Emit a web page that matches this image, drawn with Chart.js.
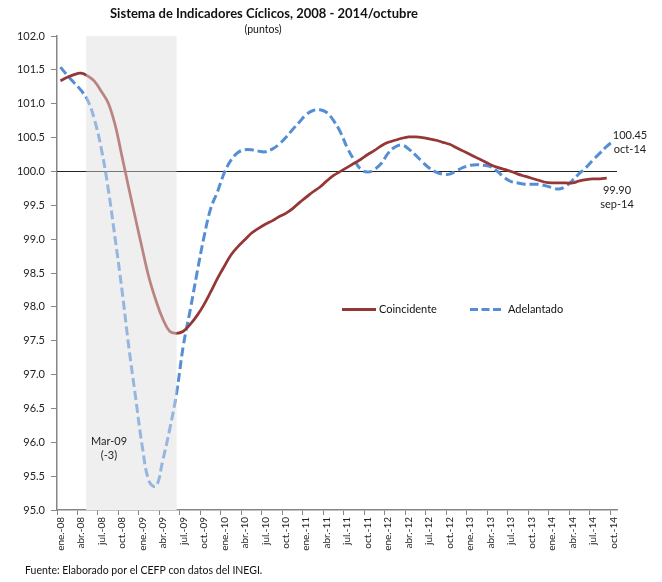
<!DOCTYPE html>
<html>
<head>
<meta charset="utf-8">
<script src="https://cdn.jsdelivr.net/npm/chart.js@4.4.1/dist/chart.umd.min.js"></script>
<style>
  body { margin: 0; background: #fff; }
  #wrap { width: 662px; height: 582px; }
</style>
</head>
<body>
<div id="wrap"><canvas id="chart" width="662" height="582"></canvas></div>
<script>
// ── Data ──────────────────────────────────────────────────────────────
const MONTHS = ['ene.','feb.','mar.','abr.','may.','jun.','jul.','ago.','sep.','oct.','nov.','dic.'];
const YEARS  = ['08','09','10','11','12','13','14'];
const LAST_MONTH = 9;   // oct-14

const labels = [];
YEARS.forEach((y, yi) => MONTHS.forEach((m, mi) => {
  if (yi < YEARS.length - 1 || mi <= LAST_MONTH) labels.push(m + '-' + y);
}));

// ene-08 .. sep-14
const coincidente = [
  101.34,101.39,101.43,101.45,101.41,101.33,101.18,101.01,100.69,100.23,
   99.76, 99.30, 98.85, 98.42, 98.09, 97.82, 97.64, 97.61, 97.64, 97.74,
   97.87, 98.03, 98.22, 98.42, 98.60, 98.77, 98.89, 98.99, 99.09, 99.16,
   99.22, 99.27, 99.33, 99.38, 99.45, 99.54, 99.62, 99.70, 99.77, 99.86,
   99.94,100.00,100.06,100.12,100.18,100.25,100.31,100.38,100.43,100.46,
  100.49,100.51,100.51,100.50,100.48,100.46,100.43,100.40,100.35,100.30,
  100.25,100.20,100.15,100.10,100.06,100.03,100.00, 99.96, 99.93, 99.90,
   99.87, 99.84, 99.83, 99.83, 99.83, 99.83, 99.86, 99.88, 99.89, 99.89,
   99.90
];

// ene-08 .. oct-14
const adelantado = [
  101.54,101.42,101.31,101.20,101.05,100.76,100.33, 99.74, 99.02, 98.26,
   97.42, 96.67, 95.93, 95.42, 95.35, 95.74, 96.19, 96.72, 97.43, 97.95,
   98.50, 99.02, 99.45, 99.70, 99.98,100.17,100.28,100.32,100.32,100.30,
  100.29,100.33,100.40,100.50,100.62,100.73,100.84,100.90,100.91,100.87,
  100.75,100.58,100.35,100.17,100.03, 99.99,100.03,100.12,100.27,100.36,
  100.39,100.33,100.24,100.14,100.05, 99.99, 99.96, 99.96,100.01,100.06,
  100.09,100.10,100.09,100.07,100.00, 99.91, 99.85, 99.83, 99.81, 99.81,
   99.81, 99.79, 99.76, 99.74, 99.78, 99.87, 99.97,100.06,100.17,100.27,
  100.37,100.45
];

const SHADE_FROM = 'may.-08';
const SHADE_TO   = 'jun.-09';
const Y_MIN = 95, Y_MAX = 102, Y_STEP = 0.5;

const RED  = '#953735';
const BLUE = '#558ed5';
const FONT = 'Lato, "Liberation Sans", sans-serif';

// ── Decorations: shaded period, 100 line, texts, legend ───────────────
const decor = {
  id: 'decor',
  beforeDatasetsDraw(chart) {
    const { ctx, chartArea: a, scales: { x, y } } = chart;
    const x0 = x.getPixelForValue(labels.indexOf(SHADE_FROM)) - 1.5;
    const x1 = x.getPixelForValue(labels.indexOf(SHADE_TO));
    ctx.save();
    ctx.fillStyle = '#efefef';
    ctx.fillRect(x0, a.top, x1 - x0, a.bottom - a.top);
    const y100 = Math.round(y.getPixelForValue(100)) + 0.5;
    ctx.strokeStyle = '#222';
    ctx.lineWidth = 1;
    ctx.beginPath();
    ctx.moveTo(a.left, y100);
    ctx.lineTo(a.right, y100);
    ctx.stroke();
    ctx.restore();
  },
  afterDatasetsDraw(chart) {
    const { ctx, chartArea: a, scales: { x } } = chart;
    const x0 = x.getPixelForValue(labels.indexOf(SHADE_FROM)) - 1.5;
    const x1 = x.getPixelForValue(labels.indexOf(SHADE_TO));
    ctx.save();
    ctx.fillStyle = 'rgba(239,239,239,0.42)';
    ctx.fillRect(x0, a.top, x1 - x0, a.bottom - a.top);
    ctx.restore();
  },
  afterDraw(chart) {
    const { ctx } = chart;
    ctx.save();
    ctx.fillStyle = '#111';
    ctx.textBaseline = 'middle';

    // title
    ctx.font = `bold 13px ${FONT}`;
    ctx.textAlign = 'center';
    ctx.fillText('Sistema de Indicadores Cíclicos, 2008 - 2014/octubre', 264, 14);
    ctx.font = `10.5px ${FONT}`;
    ctx.fillText('(puntos)', 263, 30);

    // annotations
    ctx.font = `11px ${FONT}`;
    ctx.fillStyle = '#222';
    ctx.fillText('Mar-09', 109, 441);
    ctx.fillText('(-3)', 109, 455);
    ctx.fillText('100.45', 630, 135);
    ctx.fillText('oct-14', 630, 149.5);
    ctx.fillText('99.90', 617, 190);
    ctx.fillText('sep-14', 617, 204.5);

    // legend
    const ly = 309.5;
    ctx.lineWidth = 3;
    ctx.strokeStyle = RED;
    ctx.beginPath(); ctx.moveTo(342, ly); ctx.lineTo(376, ly); ctx.stroke();
    ctx.strokeStyle = BLUE;
    ctx.setLineDash([8, 3.5]);
    ctx.beginPath(); ctx.moveTo(470, ly); ctx.lineTo(502, ly); ctx.stroke();
    ctx.setLineDash([]);
    ctx.textAlign = 'left';
    ctx.font = `11px ${FONT}`;
    ctx.fillStyle = '#111';
    ctx.fillText('Coincidente', 379, ly);
    ctx.fillText('Adelantado', 508, ly);

    // source
    ctx.font = `10.5px ${FONT}`;
    ctx.fillText('Fuente: Elaborado por el CEFP con datos del INEGI.', 25, 571);
    ctx.restore();
  }
};

// ── Chart ─────────────────────────────────────────────────────────────
new Chart(document.getElementById('chart'), {
  type: 'line',
  data: {
    labels,
    datasets: [
      {
        label: 'Coincidente',
        data: coincidente,
        borderColor: RED,
        borderWidth: 2.75,
        pointRadius: 0,
        tension: 0.4,
        fill: false,
      },
      {
        label: 'Adelantado',
        data: adelantado,
        borderColor: BLUE,
        borderWidth: 3,
        borderDash: [9, 4],
        pointRadius: 0,
        tension: 0.4,
        fill: false,
      },
    ],
  },
  options: {
    responsive: false,
    animation: false,
    layout: { padding: { top: 36, right: 45, left: 0, bottom: 0 } },
    plugins: { legend: { display: false }, tooltip: { enabled: false } },
    scales: {
      x: {
        offset: true,
        grid: {
          offset: true,
          drawOnChartArea: false,
          tickLength: 5,
          color: ctx => (ctx.index % 3 === 0 ? '#868686' : 'rgba(0,0,0,0)'),
        },
        border: { color: '#868686', width: 1.5 },
        ticks: {
          autoSkip: false,
          maxRotation: 90,
          minRotation: 90,
          padding: 2,
          color: '#222',
          font: { size: 10, family: FONT },
          callback: (v, i) => (i % 3 === 0 ? labels[i] : ''),
        },
        afterFit: s => { s.height = 72; },
      },
      y: {
        min: Y_MIN,
        max: Y_MAX,
        grid: { drawOnChartArea: false, tickLength: 6, color: '#868686' },
        border: { color: '#868686', width: 1.5 },
        ticks: {
          stepSize: Y_STEP,
          padding: 6,
          color: '#222',
          font: { size: 11, family: FONT },
          callback: v => v.toFixed(1),
        },
        afterFit: s => { s.width = 57; },
      },
    },
  },
  plugins: [decor],
});
</script>
</body>
</html>
